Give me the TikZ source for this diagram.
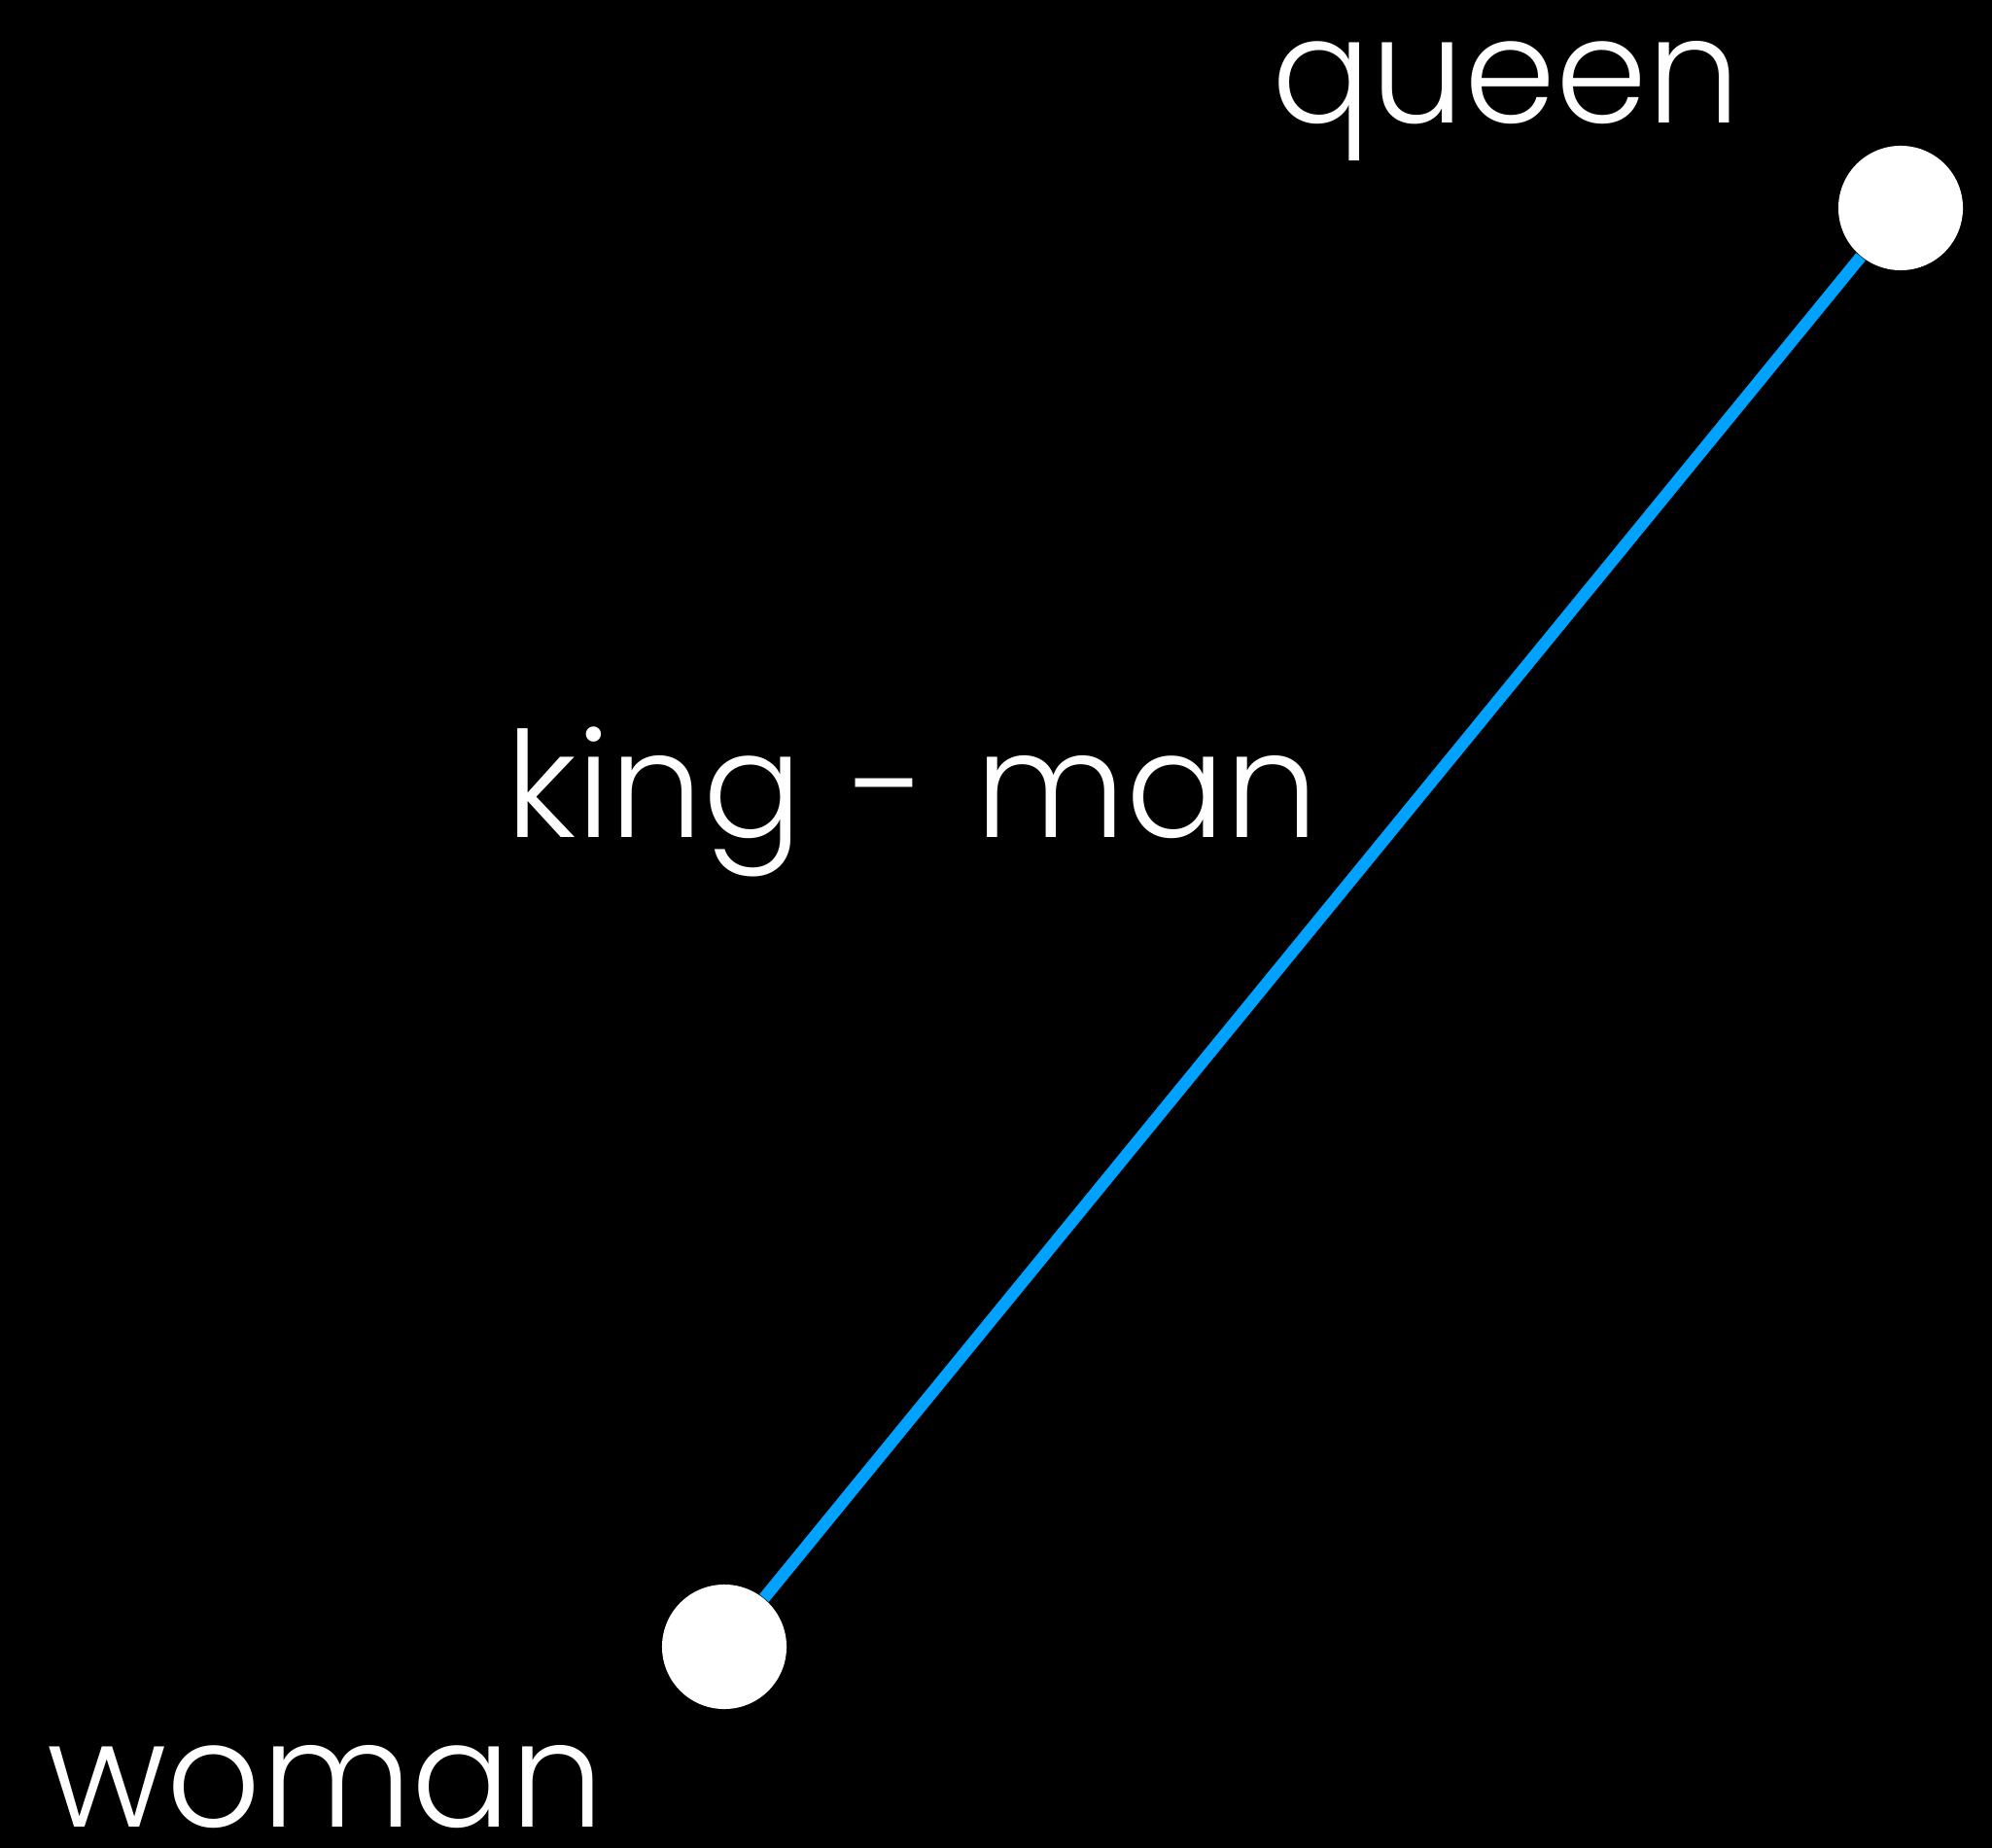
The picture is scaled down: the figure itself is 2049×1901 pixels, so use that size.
\documentclass[tikz,border=0pt]{standalone}
\usepackage{fontspec}
\setmainfont{Poppins}[UprightFont=* Light,WordSpace=1.2]
\usetikzlibrary{positioning}

\definecolor{vecblue}{HTML}{00A2FF}

\begin{document}
\begin{tikzpicture}[
  x=0.01cm,y=-0.01cm,
  word/.style={text=white,font=\fontsize{43}{50}\selectfont,inner sep=0pt,
               text depth=0pt,anchor=base west},
  point/.style={circle,fill=white,minimum size=1.28cm,inner sep=0pt},
  vec/.style={vecblue,line width=3.5pt},
]

% Background
\fill[black] (0,0) rectangle (2049,1901);
\useasboundingbox (0,0) rectangle (2049,1901);

% Word points
\node[point] (queen) at (1955,214) {};
\node[point] (woman) at (745,1694) {};

% Difference vector
\draw[vec] (woman) -- (queen);

% Labels
\node[word] (queenlabel) at (1308,127) {queen};
\node[word] (diff) at (520,861) {king - man};
\node[word] (womanlabel) at (48,1879) {woman};

\end{tikzpicture}
\end{document}
